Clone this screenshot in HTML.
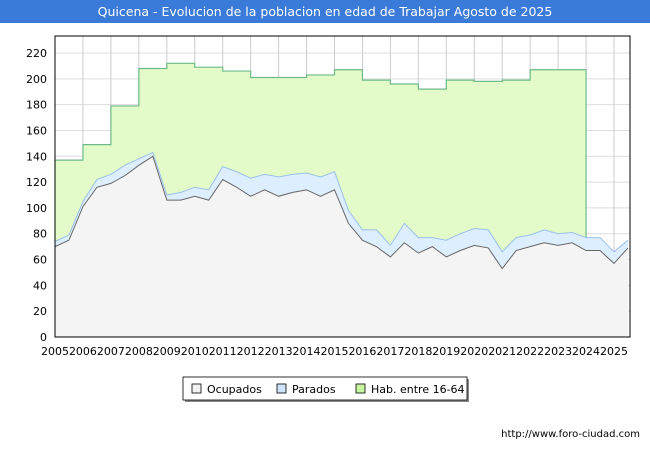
<!DOCTYPE html>
<html><head><meta charset="utf-8"><style>
body{margin:0;background:#fff;font-family:"DejaVu Sans",sans-serif}
</style></head><body>
<svg width="650" height="450" xmlns="http://www.w3.org/2000/svg" font-family="DejaVu Sans, sans-serif">
<rect x="0" y="0" width="650" height="450" fill="#fff"/>
<rect x="0" y="0" width="650" height="23" fill="#3a7ad8"/>
<text x="325" y="16" text-anchor="middle" font-size="12.5" fill="#fff">Quicena - Evolucion de la poblacion en edad de Trabajar Agosto de 2025</text>
<g id="grid"></g>
<g id="series"></g>
<rect x="55" y="36" width="575" height="301" fill="none" stroke="#000" stroke-width="1"/>
<g id="axes" font-size="11" fill="#000"></g>
<g>
<rect x="185" y="379" width="284" height="23" fill="#888"/>
<rect x="183" y="377" width="284" height="23" fill="#fff" stroke="#000" stroke-width="0.8"/>
<rect x="192" y="384" width="9" height="9" fill="#f2f2f2" stroke="#000" stroke-width="0.8"/>
<text x="207" y="393" font-size="11">Ocupados</text>
<rect x="277" y="384" width="9" height="9" fill="#cfe3fa" stroke="#000" stroke-width="0.8"/>
<text x="292" y="393" font-size="11">Parados</text>
<rect x="356" y="384" width="9" height="9" fill="#c8f5a0" stroke="#000" stroke-width="0.8"/>
<text x="371" y="393" font-size="11">Hab. entre 16-64</text>
</g>
<text x="640" y="437" text-anchor="end" font-size="10">http://www.foro-ciudad.com</text>
</svg>
<script>
const habYears=[2005,2006,2007,2008,2009,2010,2011,2012,2013,2014,2015,2016,2017,2018,2019,2020,2021,2022,2023];
const habValues=[137,149,179,208,212,209,206,201,201,203,207,199,196,192,199,198,199,207,207];
const seriesStart=2005, seriesStep=0.5;
const ocupados=[70,75,101,116,119,125,133,140,106,106,109,106,122,116,109,114,109,112,114,109,114,88,75,70,62,73,65,70,62,67,71,69,53,67,70,73,71,73,67,67,57,69];
const parados=[4,4,4,6,7,8,5,3,4,6,7,8,10,12,14,12,15,14,13,15,14,10,8,13,9,15,12,7,13,13,13,14,13,10,9,10,9,8,10,10,9,6];
const yTicks=[0,20,40,60,80,100,120,140,160,180,200,220];
const xTicks=[2005,2006,2007,2008,2009,2010,2011,2012,2013,2014,2015,2016,2017,2018,2019,2020,2021,2022,2023,2024,2025];
const NS='http://www.w3.org/2000/svg';
const X=t=>55+(t-2005)*27.95;
const Y=v=>337-v*(284/220);
function mk(tag,attrs,parent){const e=document.createElementNS(NS,tag);for(const k in attrs)e.setAttribute(k,attrs[k]);parent.appendChild(e);return e;}
const grid=document.getElementById('grid'),ser=document.getElementById('series'),ax=document.getElementById('axes');
yTicks.forEach(v=>{const l=mk('line',{x1:55,x2:630,y1:Y(v),y2:Y(v),stroke:'#ddd'},grid);


const t=mk('text',{x:47,y:Y(v)+4,'text-anchor':'end'},ax);t.textContent=v;

});
xTicks.forEach(v=>{const l=mk('line',{x1:X(v),x2:X(v),y1:36,y2:337,stroke:'#ccc'},grid);


const t=mk('text',{x:X(v),y:355,'text-anchor':'middle'},ax);t.textContent=v;

});
let hp=`M${X(habYears[0])},${Y(0)}`;
habYears.forEach((y,i)=>{hp+=` L${X(y)},${Y(habValues[i])} L${X(y+1)},${Y(habValues[i])}`;});
const lastYear=habYears[habYears.length-1]+1;
const habArea=mk('path',{d:hp+` L${X(lastYear)},${Y(0)} Z`,fill:'#e3fbc9',stroke:'none'},ser);


const habLine=mk('path',{d:hp.replace(/^M[^L]*L/,'M')+` L${X(lastYear)},${Y(ocupados[(lastYear-seriesStart)/seriesStep]+parados[(lastYear-seriesStart)/seriesStep])}`,fill:'none',stroke:'#6dbb8a','stroke-width':1.2},ser);


const tx=i=>X(seriesStart+i*seriesStep);
let tp='',op='';
ocupados.forEach((o,i)=>{tp+=(i?' L':'M')+tx(i)+','+Y(o+parados[i]);op+=(i?' L':'M')+tx(i)+','+Y(o);});
const n=ocupados.length-1;
const pa=mk('path',{d:tp+` L${tx(n)},${Y(0)} L${tx(0)},${Y(0)} Z`,fill:'#ddeeff'},ser);


const pl=mk('path',{d:tp,fill:'none',stroke:'#9cc0ea','stroke-width':1},ser);


const oa=mk('path',{d:op+` L${tx(n)},${Y(0)} L${tx(0)},${Y(0)} Z`,fill:'#f4f4f4'},ser);


const ol=mk('path',{d:op,fill:'none',stroke:'#666','stroke-width':1},ser);


</script>
</body></html>
